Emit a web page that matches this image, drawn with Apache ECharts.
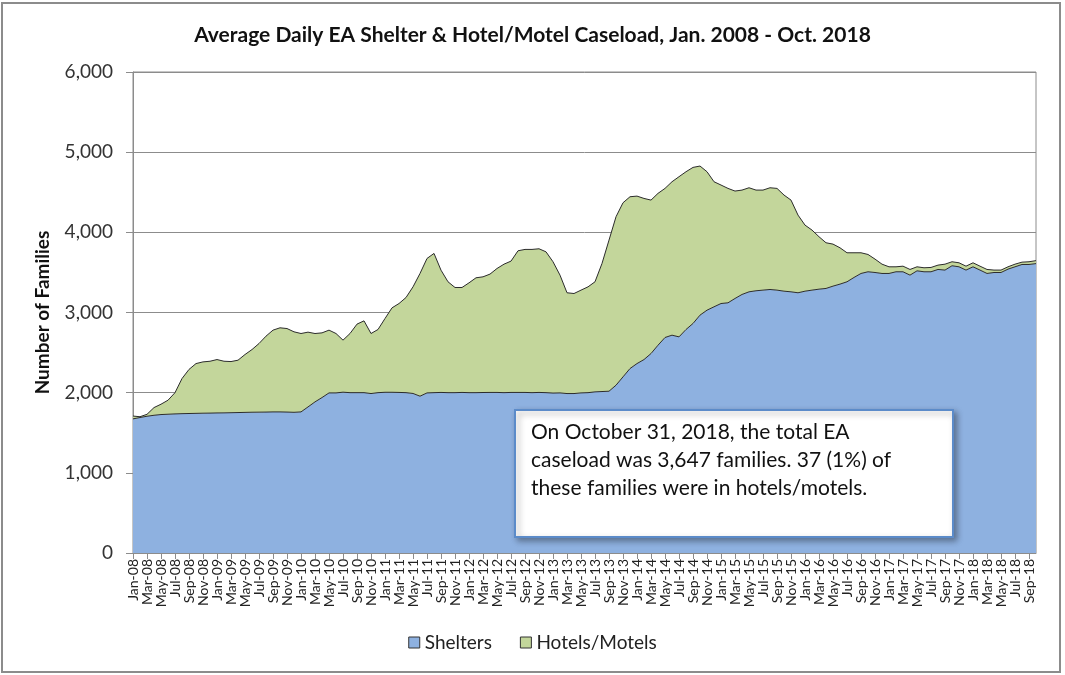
<!DOCTYPE html>
<html>
<head>
<meta charset="utf-8">
<script src="https://cdn.jsdelivr.net/npm/echarts@6/dist/echarts.min.js"></script>
<style>
  html, body { margin: 0; padding: 0; background: #fff; }
  #main { width: 1065px; height: 675px; }
</style>
</head>
<body>
<div id="main"></div>
<script>
// month labels Jan-08 .. Oct-18
var monthNames = ['Jan', 'Feb', 'Mar', 'Apr', 'May', 'Jun', 'Jul', 'Aug', 'Sep', 'Oct', 'Nov', 'Dec'];
var years = ['08', '09', '10', '11', '12', '13', '14', '15', '16', '17', '18'];
var months = [];
years.forEach(function (y) {
  monthNames.forEach(function (m) {
    if (months.length < 130) months.push(m + '-' + y);
  });
});

// 庇护所
var shelters = [
  1673, 1690, 1706, 1718, 1727, 1731, 1735, 1738, 1740, 1742, 1744, 1745,
  1747, 1748, 1750, 1752, 1754, 1756, 1757, 1758, 1760, 1760, 1758, 1755,
  1760, 1822, 1885, 1939, 1997, 1997, 2006, 2000, 2000, 2000, 1989, 2000,
  2005, 2005, 2003, 2000, 1990, 1956, 1997, 2000, 2003, 2000, 2000, 2003,
  2000, 2000, 2002, 2003, 2003, 2000, 2003, 2003, 2003, 2000, 2003, 2000,
  1995, 1997, 1989, 1989, 1997, 2000, 2010, 2014, 2018, 2093, 2197, 2301,
  2363, 2413, 2488, 2592, 2688, 2717, 2696, 2788, 2863, 2967, 3029, 3071,
  3112, 3121, 3175, 3225, 3258, 3271, 3279, 3287, 3279, 3266, 3258, 3246,
  3266, 3279, 3291, 3300, 3329, 3354, 3383, 3437, 3487, 3508, 3499, 3487,
  3487, 3508, 3508, 3466, 3520, 3508, 3508, 3537, 3529, 3583, 3570, 3529,
  3570, 3529, 3487, 3499, 3499, 3541, 3570, 3599, 3599, 3610
];
// 酒店/汽车旅馆
var hotels = [
  35, 10, 24, 96, 129, 175, 265, 438, 550, 621, 640, 647,
  666, 644, 638, 653, 722, 782, 856, 947, 1020, 1049, 1042, 1004,
  978, 933, 853, 807, 783, 741, 649, 738, 855, 896, 749, 788,
  920, 1053, 1109, 1187, 1330, 1531, 1677, 1737, 1525, 1383, 1312, 1309,
  1370, 1433, 1443, 1476, 1546, 1603, 1638, 1767, 1784, 1787, 1792, 1757,
  1638, 1469, 1257, 1248, 1282, 1320, 1373, 1598, 1885, 2101, 2172, 2143,
  2089, 2010, 1914, 1894, 1860, 1914, 1998, 1968, 1947, 1860, 1727, 1560,
  1478, 1427, 1340, 1302, 1298, 1256, 1248, 1269, 1269, 1199, 1144, 969,
  824, 749, 654, 570, 524, 453, 362, 308, 258, 216, 167, 116,
  83, 62, 70, 71, 50, 50, 54, 54, 74, 50, 50, 49,
  50, 49, 50, 30, 30, 29, 33, 29, 34, 37
];

var font = 'Lato, "Open Sans", sans-serif';
var myChart = echarts.init(document.getElementById('main'));

var option = {
  animation: false,
  textStyle: { fontFamily: font },
  title: {
    text: 'Average Daily EA Shelter & Hotel/Motel Caseload, Jan. 2008 - Oct. 2018',
    left: 'center',
    top: 20,
    textStyle: { fontFamily: font, fontSize: 21, fontWeight: 'bold', color: '#111' }
  },
  legend: {
    bottom: 18,
    left: 'center',
    icon: 'rect',
    itemWidth: 11,
    itemHeight: 11,
    itemGap: 28,
    itemStyle: { borderColor: '#333', borderWidth: 1 },
    textStyle: { fontFamily: font, fontSize: 19, color: '#222' },
    data: ['Shelters', 'Hotels/Motels']
  },
  grid: {
    show: true,
    left: 133,
    right: 29,
    top: 72,
    bottom: 122,
    borderColor: '#8c8c8c',
    borderWidth: 1
  },
  xAxis: {
    type: 'category',
    boundaryGap: false,
    data: months,
    axisLine: { show: true, lineStyle: { color: '#8c8c8c' } },
    axisTick: { show: true, interval: 1, length: 6, lineStyle: { color: '#8c8c8c' } },
    axisLabel: {
      interval: 1,
      rotate: 90,
      fontSize: 14,
      margin: 6,
      color: '#222',
      fontFamily: font
    }
  },
  yAxis: {
    type: 'value',
    min: 0,
    max: 6000,
    interval: 1000,
    name: 'Number of Families',
    nameLocation: 'middle',
    nameGap: 81,
    nameTextStyle: { fontFamily: font, fontSize: 19, fontWeight: 'bold', color: '#111' },
    axisLine: { show: true, lineStyle: { color: '#8c8c8c' } },
    axisTick: { show: true, length: 7, lineStyle: { color: '#8c8c8c' } },
    axisLabel: {
      fontSize: 19,
      margin: 20,
      color: '#333',
      fontFamily: font,
      formatter: function (v) { return v.toLocaleString('en-US'); }
    },
    splitLine: { show: true, lineStyle: { color: '#8c8c8c', width: 1 } }
  },
  series: [
    {
      name: 'Shelters',
      type: 'line',
      stack: 'total',
      symbol: 'none',
      smooth: false,
      lineStyle: { color: '#2b2b2b', width: 1 },
      itemStyle: { color: '#8eb1e0' },
      areaStyle: { color: '#8eb1e0', opacity: 1 },
      data: shelters
    },
    {
      name: 'Hotels/Motels',
      type: 'line',
      stack: 'total',
      symbol: 'none',
      smooth: false,
      lineStyle: { color: '#2b2b2b', width: 1 },
      itemStyle: { color: '#c3d69b' },
      areaStyle: { color: '#c3d69b', opacity: 1 },
      data: hotels
    }
  ],
  graphic: [
    {
      type: 'rect',
      shape: { x: 2, y: 3, width: 1058, height: 669 },
      style: { fill: 'none', stroke: '#8c8c8c', lineWidth: 2 },
      silent: true
    },
    {
      type: 'rect',
      z: 100,
      shape: { x: 515, y: 410, width: 438, height: 127 },
      style: {
        fill: '#fff',
        stroke: '#5b8bc9',
        lineWidth: 2,
        shadowBlur: 6,
        shadowOffsetX: 3,
        shadowOffsetY: 3,
        shadowColor: 'rgba(0,0,0,0.35)'
      }
    },
    {
      type: 'text',
      z: 101,
      left: 531,
      top: 418,
      style: {
        text: 'On October 31, 2018, the total EA\ncaseload was 3,647 families. 37 (1%) of\nthese families were in hotels/motels.',
        font: '21px ' + font,
        lineHeight: 28,
        fill: '#111'
      }
    }
  ]
};
myChart.setOption(option);
</script>
</body>
</html>
